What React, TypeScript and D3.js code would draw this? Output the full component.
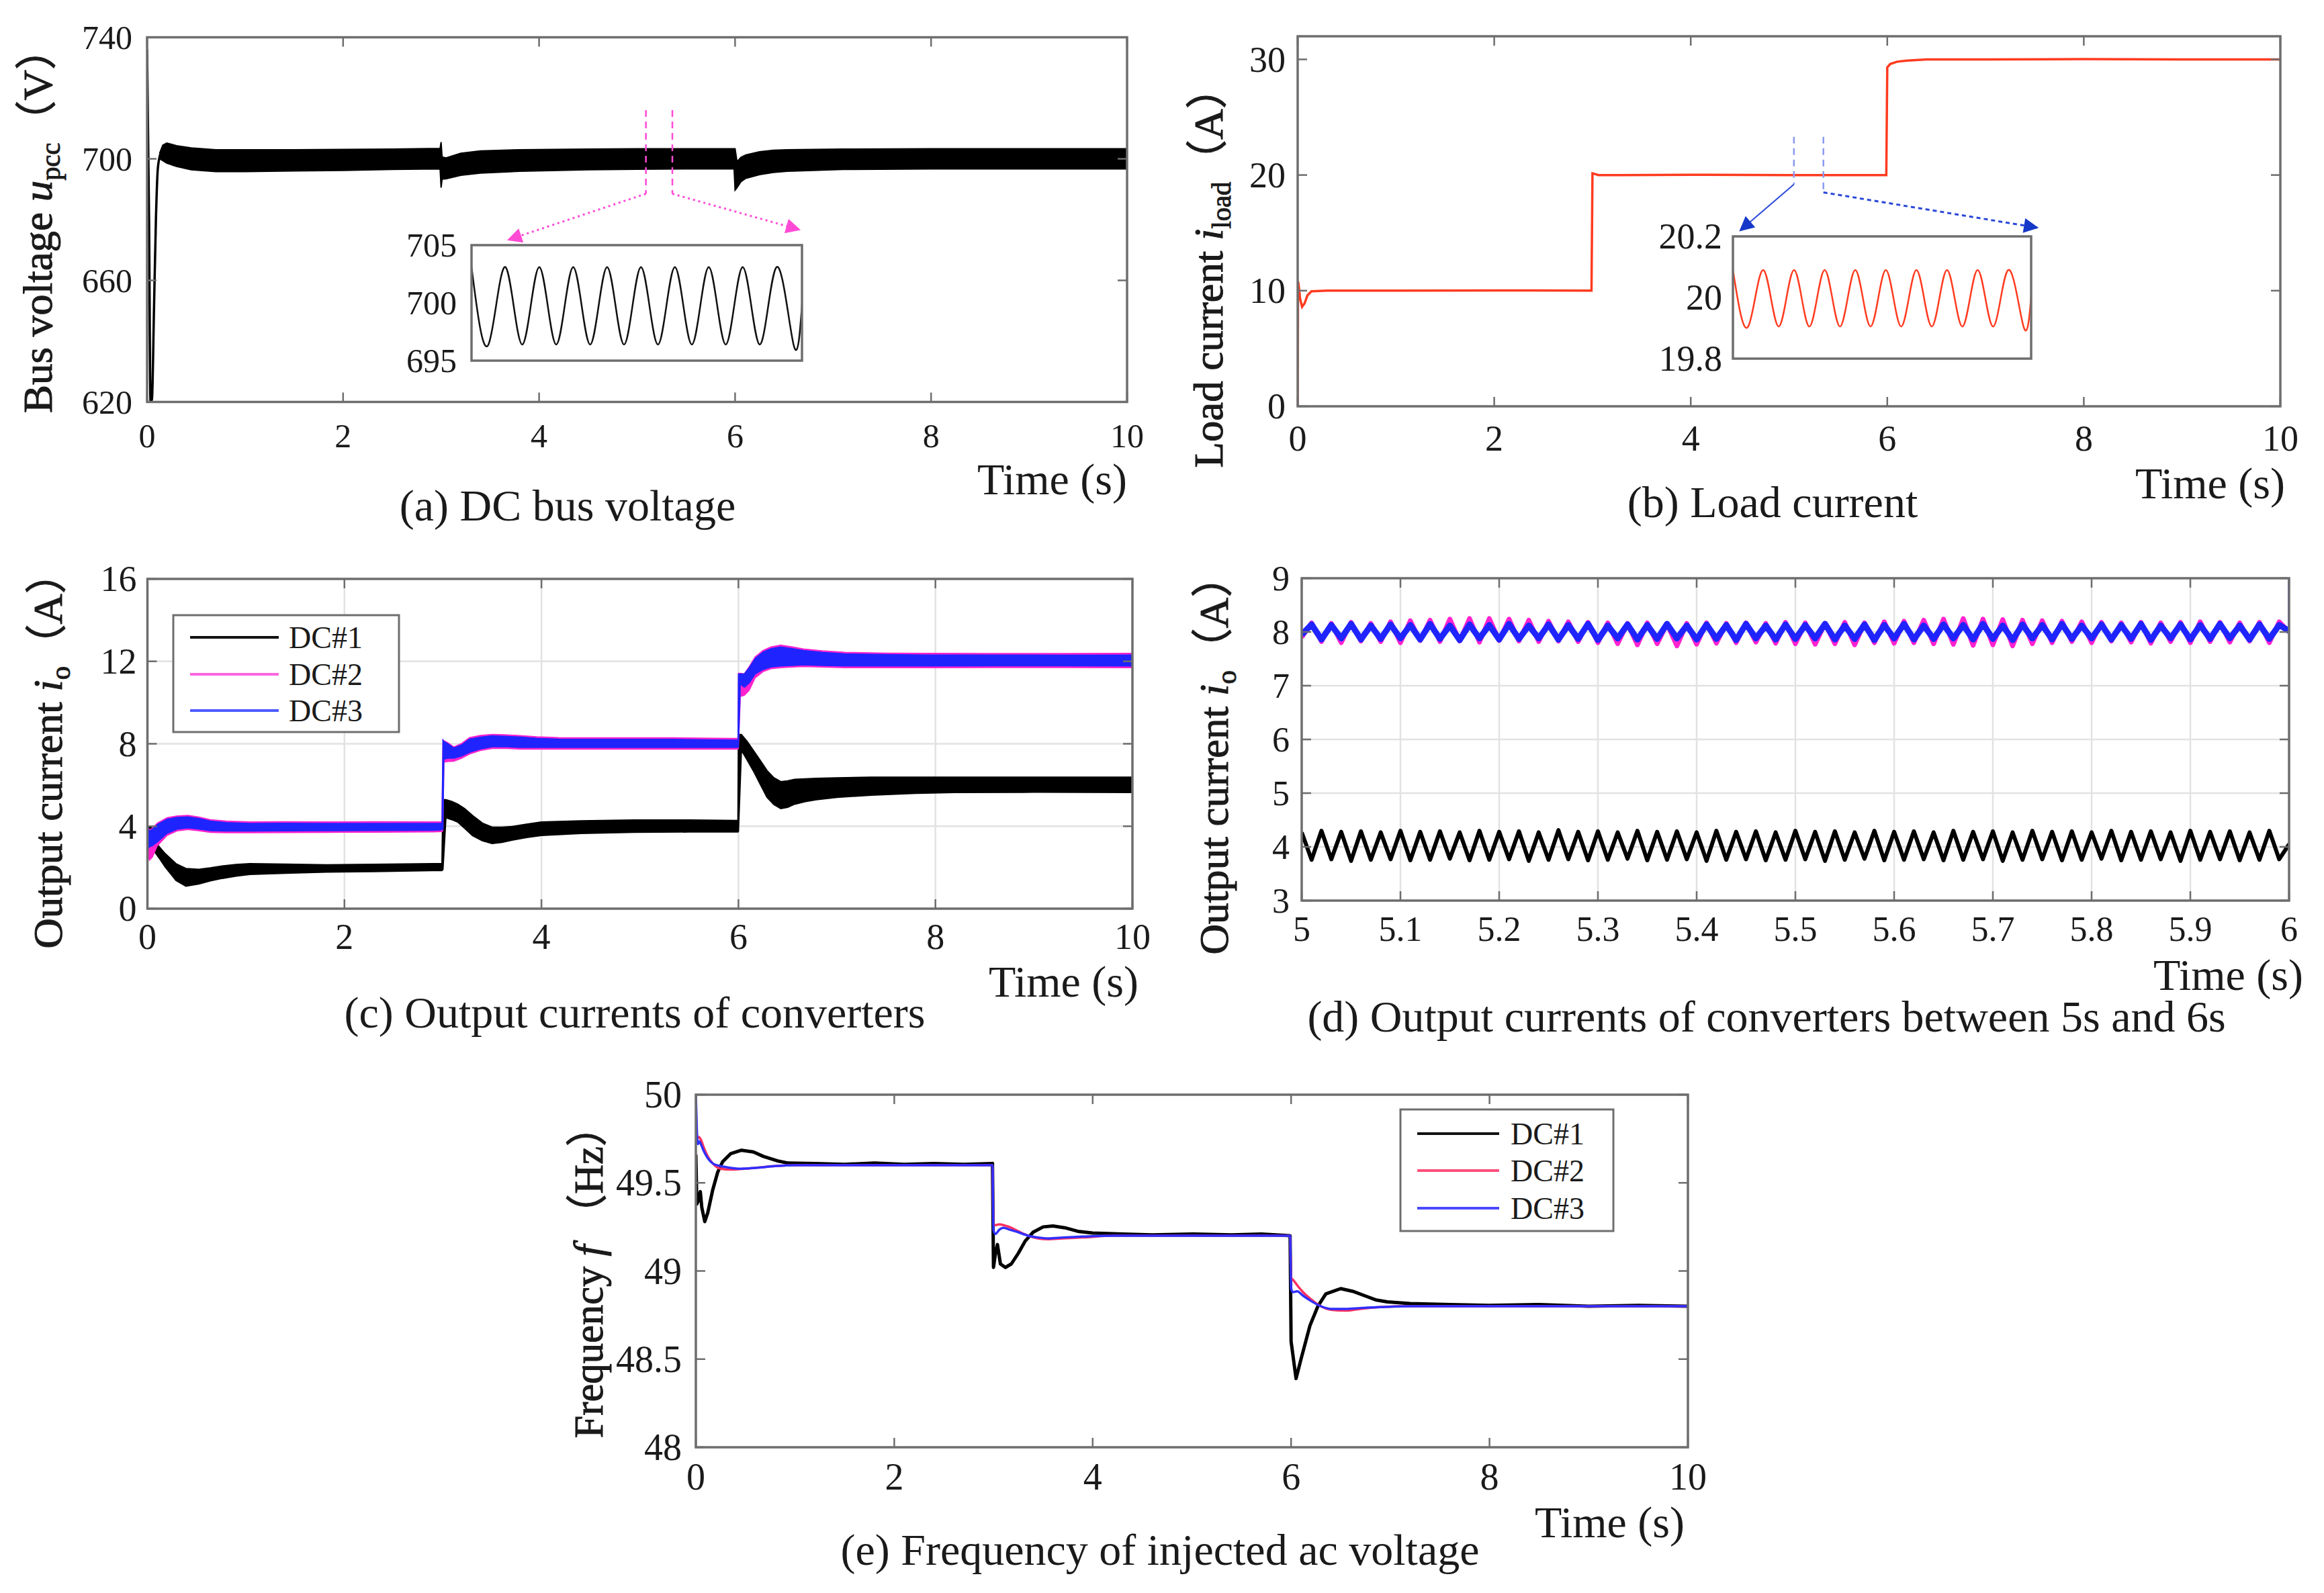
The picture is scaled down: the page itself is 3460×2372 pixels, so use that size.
import React from "react";
import * as d3 from "d3";

const FONT = "'Liberation Serif', 'Times New Roman', 'Noto Sans CJK SC', serif";
const INK = "#1a1a1a";
const AXIS = "#6e6e6e";
const GRID = "#e2e2e2";

// ---------- (a) DC bus voltage ----------
const aXTicks = [0, 2, 4, 6, 8, 10];
const aYTicks = [620, 660, 700, 740];
const aStartTime = [0, 0.02, 0.035, 0.05, 0.07, 0.09, 0.11, 0.14];
const aStartVolt = [736, 680, 620, 621, 650, 680, 697, 702];
const aBandTime = [0.13, 0.16, 0.2, 0.3, 0.45, 0.7, 1.0, 1.5, 2.0, 2.5, 2.99, 3.0, 3.01, 3.05, 3.2, 3.4, 3.8, 4.5, 5.0, 5.5, 5.99, 6.0, 6.02, 6.06, 6.11, 6.25, 6.39, 6.53, 7.1, 8.0, 9.0, 10.0];
const aBandUpper = [702, 704.5, 705.2, 704.3, 703.6, 703.0, 703.0, 703.0, 703.1, 703.2, 703.4, 705.5, 700.6, 700.3, 701.8, 702.6, 703.0, 703.2, 703.3, 703.3, 703.3, 703.3, 699.0, 700.5, 701.3, 702.3, 702.8, 703.0, 703.2, 703.3, 703.3, 703.3];
const aBandLower = [700, 699.4, 698.6, 697.5, 696.4, 695.8, 695.8, 696.0, 696.2, 696.5, 696.7, 690.5, 693.3, 693.4, 694.6, 695.3, 695.9, 696.4, 696.6, 696.7, 696.7, 689.7, 690.5, 692.5, 693.6, 694.8, 695.5, 695.9, 696.5, 696.7, 696.7, 696.7];
const aMarkTime = [5.09, 5.36];
const aInsetTicks = [695, 700, 705];
const aInsetTime = [5.1, 5.10513, 5.11026, 5.11538, 5.12051, 5.12564, 5.13077, 5.1359, 5.14103, 5.14615, 5.15128, 5.15641, 5.16154, 5.16667, 5.17179, 5.17692, 5.18205, 5.18718, 5.19231, 5.19744, 5.2];
const aInsetVolt = [703.1, 696.4, 703.1, 696.4, 703.1, 696.4, 703.1, 696.4, 703.1, 696.4, 703.1, 696.4, 703.1, 696.4, 703.1, 696.4, 703.1, 696.4, 703.1, 696.4, 699.8];

// ---------- (b) Load current ----------
const bXTicks = [0, 2, 4, 6, 8, 10];
const bYTicks = [0, 10, 20, 30];
const bTime = [0, 0.004, 0.01, 0.025, 0.045, 0.07, 0.1, 0.14, 0.3, 1, 2, 2.99, 3.0, 3.02, 3.06, 3.3, 4, 5, 5.99, 6.0, 6.03, 6.1, 6.2, 6.4, 7, 8, 9, 10];
const bCurrent = [0, 10.8, 10.5, 9.3, 8.6, 8.9, 9.6, 9.95, 10, 10, 10.02, 10, 20.15, 20.1, 20, 20, 20.02, 20, 20, 29.3, 29.6, 29.8, 29.9, 30, 30, 30.02, 30, 30];
const bMarkTime = [5.05, 5.35];
const bInsetTicks = [19.8, 20, 20.2];
const bInsetLabels = ["19.8", "20", "20.2"];
const bInsetTime = [5.1, 5.10513, 5.11026, 5.11538, 5.12051, 5.12564, 5.13077, 5.1359, 5.14103, 5.14615, 5.15128, 5.15641, 5.16154, 5.16667, 5.17179, 5.17692, 5.18205, 5.18718, 5.19231, 5.19744, 5.2];
const bInsetCurrent = [20.09, 19.905, 20.09, 19.905, 20.09, 19.905, 20.09, 19.905, 20.09, 19.905, 20.09, 19.905, 20.09, 19.905, 20.09, 19.905, 20.09, 19.905, 20.09, 19.905, 20.0];

// ---------- (c) Output currents of converters ----------
const cXTicks = [0, 2, 4, 6, 8, 10];
const cYTicks = [0, 4, 8, 12, 16];
const cTime = [0, 0.004, 0.02, 0.05, 0.1, 0.2, 0.3, 0.41, 0.52, 0.64, 0.8, 1.04, 1.4, 1.82, 2.3, 2.9, 2.99, 3.0, 3.01, 3.05, 3.11, 3.19, 3.27, 3.38, 3.5, 3.62, 3.78, 3.95, 4.17, 4.6, 5.35, 5.97, 5.995, 6.0, 6.02, 6.06, 6.11, 6.17, 6.25, 6.33, 6.43, 6.55, 6.66, 6.85, 7.08, 7.5, 7.92, 8.6, 9.3, 10];
const cBlueUpper = [0.05, 3.9, 3.76, 3.85, 4.09, 4.34, 4.43, 4.46, 4.38, 4.25, 4.18, 4.14, 4.15, 4.14, 4.14, 4.14, 4.15, 8.18, 8.12, 8.0, 7.8, 7.95, 8.23, 8.33, 8.39, 8.37, 8.33, 8.27, 8.23, 8.22, 8.22, 8.18, 8.18, 11.39, 11.39, 11.39, 11.7, 12.15, 12.45, 12.62, 12.7, 12.62, 12.53, 12.44, 12.37, 12.33, 12.31, 12.31, 12.3, 12.31];
const cBlueLower = [0, 2.9, 3.0, 3.05, 3.23, 3.65, 3.85, 3.92, 3.86, 3.78, 3.76, 3.76, 3.77, 3.78, 3.79, 3.8, 3.82, 3.85, 7.25, 7.3, 7.3, 7.4, 7.58, 7.75, 7.85, 7.86, 7.82, 7.82, 7.82, 7.82, 7.82, 7.82, 7.82, 7.85, 10.9, 10.74, 10.95, 11.39, 11.6, 11.72, 11.77, 11.8, 11.83, 11.8, 11.77, 11.77, 11.77, 11.78, 11.78, 11.77];
const cPinkUpper = [0.05, 3.95, 3.82, 3.9, 4.15, 4.42, 4.5, 4.53, 4.45, 4.32, 4.25, 4.21, 4.22, 4.21, 4.22, 4.21, 4.22, 8.2, 8.15, 8.05, 7.85, 8.02, 8.3, 8.41, 8.46, 8.44, 8.4, 8.34, 8.3, 8.29, 8.29, 8.26, 8.26, 11.42, 11.42, 11.4, 11.75, 12.22, 12.53, 12.7, 12.79, 12.7, 12.6, 12.51, 12.44, 12.4, 12.39, 12.38, 12.38, 12.39];
const cPinkLower = [0, 2.6, 2.35, 2.5, 3.05, 3.55, 3.77, 3.84, 3.78, 3.7, 3.68, 3.68, 3.69, 3.7, 3.71, 3.72, 3.74, 3.8, 7.1, 7.14, 7.15, 7.3, 7.5, 7.67, 7.77, 7.78, 7.74, 7.74, 7.74, 7.74, 7.74, 7.74, 7.74, 7.8, 10.3, 10.35, 10.6, 11.2, 11.5, 11.64, 11.69, 11.72, 11.75, 11.72, 11.69, 11.69, 11.69, 11.7, 11.7, 11.69];
const cBlackTime = [0, 0.005, 0.03, 0.05, 0.07, 0.12, 0.18, 0.29, 0.39, 0.52, 0.64, 0.76, 0.9, 1.04, 1.4, 1.82, 2.3, 2.9, 2.99, 3.0, 3.03, 3.09, 3.15, 3.22, 3.3, 3.4, 3.5, 3.6, 3.7, 3.85, 4.0, 4.4, 4.94, 5.5, 5.97, 5.995, 6.0, 6.03, 6.09, 6.15, 6.22, 6.29, 6.36, 6.43, 6.5, 6.57, 6.68, 6.79, 7.0, 7.35, 7.8, 8.2, 9.0, 10];
const cBlackUpper = [3.3, 3.97, 3.97, 3.9, 3.32, 3.0, 2.67, 2.18, 1.95, 1.91, 1.98, 2.07, 2.14, 2.18, 2.16, 2.13, 2.15, 2.18, 2.18, 5.29, 5.29, 5.2, 5.07, 4.85, 4.52, 4.15, 3.95, 3.95, 3.98, 4.1, 4.2, 4.26, 4.3, 4.3, 4.28, 4.28, 8.45, 8.45, 8.1, 7.69, 7.2, 6.7, 6.35, 6.16, 6.2, 6.27, 6.3, 6.32, 6.35, 6.38, 6.38, 6.38, 6.38, 6.38];
const cBlackLower = [3.3, 3.0, 3.0, 2.85, 2.78, 2.45, 2.02, 1.37, 1.09, 1.2, 1.35, 1.47, 1.58, 1.66, 1.72, 1.78, 1.8, 1.85, 1.85, 1.9, 4.41, 4.32, 4.2, 3.9, 3.55, 3.3, 3.16, 3.22, 3.32, 3.45, 3.55, 3.65, 3.71, 3.72, 3.72, 3.72, 3.76, 7.69, 7.2, 6.7, 6.05, 5.4, 5.05, 4.86, 4.92, 5.07, 5.2, 5.29, 5.4, 5.51, 5.6, 5.64, 5.65, 5.64];

// ---------- (d) Output currents between 5 s and 6 s ----------
const dXTicks = [5, 5.1, 5.2, 5.3, 5.4, 5.5, 5.6, 5.7, 5.8, 5.9, 6];
const dYTicks = [3, 4, 5, 6, 7, 8, 9];
const dStart = 5;
const dStep = 0.01;
const dBlack = [
  4.27, 3.76, 4.3, 3.77, 4.28, 3.74, 4.29, 3.76, 4.27, 3.77,
  4.3, 3.75, 4.28, 3.76, 4.29, 3.78, 4.27, 3.75, 4.3, 3.76,
  4.28, 3.77, 4.29, 3.74, 4.27, 3.76, 4.31, 3.77, 4.28, 3.75,
  4.29, 3.76, 4.27, 3.78, 4.3, 3.75, 4.28, 3.76, 4.29, 3.77,
  4.27, 3.74, 4.3, 3.76, 4.28, 3.77, 4.29, 3.75, 4.27, 3.76,
  4.3, 3.77, 4.28, 3.74, 4.29, 3.76, 4.27, 3.78, 4.3, 3.75,
  4.28, 3.76, 4.29, 3.77, 4.27, 3.75, 4.3, 3.76, 4.28, 3.77,
  4.29, 3.74, 4.27, 3.76, 4.3, 3.77, 4.28, 3.75, 4.29, 3.76,
  4.27, 3.78, 4.3, 3.75, 4.28, 3.76, 4.29, 3.77, 4.27, 3.74,
  4.3, 3.76, 4.28, 3.77, 4.29, 3.75, 4.27, 3.76, 4.3, 3.77,
  4.05,
];
const dPink = [
  7.9, 8.17, 7.82, 8.16, 7.8, 8.18, 7.83, 8.16, 7.82, 8.19,
  7.8, 8.21, 7.84, 8.22, 7.82, 8.24, 7.83, 8.25, 7.81, 8.25,
  7.84, 8.24, 7.83, 8.22, 7.82, 8.2, 7.83, 8.19, 7.82, 8.18,
  7.8, 8.17, 7.78, 8.16, 7.76, 8.17, 7.78, 8.15, 7.74, 8.16,
  7.77, 8.17, 7.79, 8.16, 7.8, 8.17, 7.81, 8.16, 7.79, 8.18,
  7.78, 8.17, 7.77, 8.16, 7.78, 8.18, 7.76, 8.17, 7.8, 8.19,
  7.79, 8.2, 7.8, 8.22, 7.78, 8.24, 7.77, 8.25, 7.75, 8.24,
  7.76, 8.23, 7.74, 8.22, 7.78, 8.21, 7.8, 8.2, 7.82, 8.19,
  7.8, 8.18, 7.83, 8.17, 7.81, 8.18, 7.79, 8.17, 7.82, 8.18,
  7.8, 8.19, 7.82, 8.18, 7.81, 8.17, 7.83, 8.18, 7.8, 8.19,
  8.0,
];
const dBlue = [
  7.95, 8.14, 7.86, 8.13, 7.88, 8.15, 7.86, 8.12, 7.87, 8.14,
  7.88, 8.13, 7.86, 8.15, 7.87, 8.12, 7.85, 8.14, 7.88, 8.13,
  7.86, 8.15, 7.87, 8.12, 7.88, 8.14, 7.86, 8.13, 7.87, 8.15,
  7.85, 8.12, 7.88, 8.14, 7.86, 8.13, 7.87, 8.15, 7.88, 8.12,
  7.86, 8.14, 7.87, 8.13, 7.85, 8.15, 7.88, 8.12, 7.86, 8.14,
  7.87, 8.13, 7.88, 8.15, 7.86, 8.12, 7.87, 8.14, 7.85, 8.13,
  7.88, 8.15, 7.86, 8.12, 7.87, 8.14, 7.88, 8.13, 7.86, 8.15,
  7.87, 8.12, 7.85, 8.14, 7.88, 8.13, 7.86, 8.15, 7.87, 8.12,
  7.88, 8.14, 7.86, 8.13, 7.87, 8.15, 7.85, 8.12, 7.88, 8.14,
  7.86, 8.13, 7.87, 8.15, 7.88, 8.12, 7.86, 8.14, 7.87, 8.13,
  8.02,
];
// jump of DC#3 right at t = 6 s
const dBlueJumpTime = [6.0, 6.0];
const dBlueJumpValue = [8.02, 9.6];

// ---------- (e) Frequency of injected ac voltage ----------
const eXTicks = [0, 2, 4, 6, 8, 10];
const eYTicks = [48, 48.5, 49, 49.5, 50];
const eBlackTime = [0, 0.01, 0.025, 0.045, 0.06, 0.09, 0.12, 0.17, 0.22, 0.27, 0.35, 0.46, 0.58, 0.68, 0.82, 0.93, 1.2, 1.5, 1.8, 2.1, 2.4, 2.7, 2.99, 3.0, 3.02, 3.04, 3.07, 3.12, 3.18, 3.25, 3.32, 3.4, 3.5, 3.6, 3.72, 3.85, 4.0, 4.3, 4.6, 5.0, 5.4, 5.7, 5.99, 6.0, 6.05, 6.1, 6.19, 6.27, 6.35, 6.5, 6.62, 6.74, 6.86, 6.97, 7.2, 7.6, 8.0, 8.5, 9.0, 9.5, 10];
const eBlackFreq = [49.66, 49.38, 49.4, 49.45, 49.36, 49.28, 49.33, 49.46, 49.56, 49.62, 49.665, 49.685, 49.675, 49.65, 49.625, 49.612, 49.61, 49.605, 49.612, 49.605, 49.61, 49.605, 49.61, 49.02, 49.1, 49.15, 49.04, 49.02, 49.04, 49.1, 49.17, 49.22, 49.25, 49.255, 49.245, 49.225, 49.215, 49.21, 49.205, 49.21, 49.205, 49.21, 49.2, 48.6, 48.39, 48.5, 48.69, 48.8, 48.87, 48.9, 48.885, 48.86, 48.835, 48.825, 48.815, 48.81, 48.805, 48.81, 48.8, 48.805, 48.8];
const eRedTime = [0, 0.01, 0.03, 0.05, 0.08, 0.12, 0.17, 0.25, 0.35, 0.45, 0.6, 0.8, 1.0, 1.5, 2, 2.5, 2.99, 3.0, 3.02, 3.06, 3.1, 3.16, 3.25, 3.35, 3.45, 3.55, 3.7, 3.9, 4.2, 5, 5.99, 6.0, 6.02, 6.06, 6.12, 6.2, 6.3, 6.4, 6.55, 6.7, 6.9, 7.2, 8, 9, 10];
const eRedFreq = [49.8, 49.75, 49.76, 49.745, 49.7, 49.65, 49.61, 49.58, 49.575, 49.578, 49.585, 49.595, 49.6, 49.6, 49.6, 49.6, 49.6, 49.27, 49.26, 49.265, 49.26, 49.25, 49.225, 49.2, 49.185, 49.18, 49.185, 49.19, 49.2, 49.2, 49.2, 48.96, 48.95, 48.92, 48.88, 48.84, 48.8, 48.78, 48.775, 48.785, 48.795, 48.8, 48.8, 48.8, 48.8];
const eBlueTime = [0, 0.01, 0.02, 0.035, 0.05, 0.08, 0.12, 0.17, 0.25, 0.35, 0.45, 0.6, 0.8, 1.0, 1.5, 2, 2.5, 2.99, 3.0, 3.02, 3.06, 3.1, 3.16, 3.25, 3.35, 3.45, 3.55, 3.7, 3.9, 4.2, 5, 5.99, 6.0, 6.02, 6.06, 6.12, 6.2, 6.3, 6.4, 6.55, 6.7, 6.9, 7.2, 8, 9, 10];
const eBlueFreq = [50, 49.8, 49.72, 49.735, 49.72, 49.68, 49.64, 49.61, 49.595, 49.585, 49.58, 49.585, 49.595, 49.6, 49.6, 49.6, 49.6, 49.6, 49.23, 49.21, 49.235, 49.245, 49.235, 49.22, 49.2, 49.19, 49.185, 49.19, 49.195, 49.2, 49.2, 49.2, 48.9, 48.88, 48.885, 48.86, 48.83, 48.8, 48.785, 48.785, 48.79, 48.795, 48.8, 48.8, 48.8, 48.8];

const legendNames = ["DC#1", "DC#2", "DC#3"];

type Box = { x0: number; x1: number; y0: number; y1: number };
type Sc = d3.ScaleLinear<number, number>;

const PANEL_A: Box = { x0: 219, x1: 1678, y0: 55.5, y1: 598.5 };
const INSET_A: Box = { x0: 702, x1: 1194, y0: 365, y1: 537 };
const PANEL_B: Box = { x0: 1932, x1: 3395, y0: 54, y1: 605 };
const INSET_B: Box = { x0: 2580, x1: 3024, y0: 352, y1: 534 };
const PANEL_C: Box = { x0: 219.5, x1: 1686, y0: 862, y1: 1353 };
const PANEL_D: Box = { x0: 1938, x1: 3408, y0: 861, y1: 1341 };
const PANEL_E: Box = { x0: 1036, x1: 2513, y0: 1630, y1: 2155 };

const zip = (ts: number[], vs: number[]) => ts.map((t, i) => [t, vs[i]] as [number, number]);
const zip3 = (ts: number[], up: number[], lo: number[]) =>
  ts.map((t, i) => [t, up[i], lo[i]] as [number, number, number]);

function linePath(x: Sc, y: Sc, pts: [number, number][], curve: d3.CurveFactory = d3.curveLinear) {
  return d3.line<[number, number]>().x((d) => x(d[0])).y((d) => y(d[1])).curve(curve)(pts) || "";
}
function bandPath(x: Sc, y: Sc, pts: [number, number, number][]) {
  return d3.area<[number, number, number]>().x((d) => x(d[0])).y1((d) => y(d[1])).y0((d) => y(d[2]))(pts) || "";
}

function Grid({ box, x, y, xTicks, yTicks }: { box: Box; x: Sc; y: Sc; xTicks: number[]; yTicks: number[] }) {
  return (
    <g stroke={GRID} strokeWidth={2.5}>
      {xTicks.map((t) => (
        <line key={"gx" + t} x1={x(t)} x2={x(t)} y1={box.y0} y2={box.y1} />
      ))}
      {yTicks.map((t) => (
        <line key={"gy" + t} x1={box.x0} x2={box.x1} y1={y(t)} y2={y(t)} />
      ))}
    </g>
  );
}

function Frame({
  box, x, y, xTicks, yTicks, fs, xDy, yGap, xFmt = String, yFmt = String,
}: {
  box: Box; x: Sc; y: Sc; xTicks: number[]; yTicks: number[]; fs: number; xDy: number; yGap: number;
  xFmt?: (v: number) => string; yFmt?: (v: number) => string;
}) {
  const tl = 14;
  return (
    <g>
      <g stroke={AXIS} strokeWidth={2.5}>
        {xTicks.map((t) => (
          <g key={"tx" + t}>
            <line x1={x(t)} x2={x(t)} y1={box.y1} y2={box.y1 - tl} />
            <line x1={x(t)} x2={x(t)} y1={box.y0} y2={box.y0 + tl} />
          </g>
        ))}
        {yTicks.map((t) => (
          <g key={"ty" + t}>
            <line x1={box.x0} x2={box.x0 + tl} y1={y(t)} y2={y(t)} />
            <line x1={box.x1} x2={box.x1 - tl} y1={y(t)} y2={y(t)} />
          </g>
        ))}
      </g>
      <rect x={box.x0} y={box.y0} width={box.x1 - box.x0} height={box.y1 - box.y0} fill="none" stroke={AXIS} strokeWidth={3.5} />
      <g fontFamily={FONT} fontSize={fs} fill={INK}>
        {xTicks.map((t) => (
          <text key={"lx" + t} x={x(t)} y={box.y1 + xDy} textAnchor="middle">
            {xFmt(t)}
          </text>
        ))}
        {yTicks.map((t) => (
          <text key={"ly" + t} x={box.x0 - yGap} y={y(t)} dy="0.34em" textAnchor="end">
            {yFmt(t)}
          </text>
        ))}
      </g>
    </g>
  );
}

function Clip({ id, box }: { id: string; box: Box }) {
  return (
    <clipPath id={id}>
      <rect x={box.x0} y={box.y0} width={box.x1 - box.x0} height={box.y1 - box.y0} />
    </clipPath>
  );
}

function Legend({ box, colors, rows, lineX, textX, fs }: { box: Box; colors: string[]; rows: number[]; lineX: [number, number]; textX: number; fs: number }) {
  return (
    <g>
      <rect x={box.x0} y={box.y0} width={box.x1 - box.x0} height={box.y1 - box.y0} fill="#fff" stroke={AXIS} strokeWidth={3} />
      {legendNames.map((n, i) => (
        <g key={n}>
          <line x1={lineX[0]} x2={lineX[1]} y1={rows[i]} y2={rows[i]} stroke={colors[i]} strokeWidth={4} />
          <text x={textX} y={rows[i]} dy="0.35em" fontFamily={FONT} fontSize={fs} fill={INK}>
            {n}
          </text>
        </g>
      ))}
    </g>
  );
}

function YLabel({ x, y, len, children }: { x: number; y: number; len: number; children: React.ReactNode }) {
  return (
    <text
      transform={`translate(${x},${y}) rotate(-90)`}
      textAnchor="middle"
      fontFamily={FONT}
      fontSize={62}
      fill={INK}
      stroke={INK}
      strokeWidth={1}
      textLength={len}
      lengthAdjust="spacingAndGlyphs"
    >
      {children}
    </text>
  );
}

function Caption({ x, y, text }: { x: number; y: number; text: string }) {
  return (
    <text x={x} y={y} textAnchor="middle" fontFamily={FONT} fontSize={66} fill={INK}>
      {text}
    </text>
  );
}

function TimeLabel({ x, y }: { x: number; y: number }) {
  return (
    <text x={x} y={y} textAnchor="end" fontFamily={FONT} fontSize={66} fill={INK}>
      Time (s)
    </text>
  );
}

export default function App() {
  // scales
  const ax = d3.scaleLinear([0, 10], [PANEL_A.x0, PANEL_A.x1]);
  const ay = d3.scaleLinear([620, 740], [PANEL_A.y1, PANEL_A.y0]);
  const aix = d3.scaleLinear([5.1, 5.2], [INSET_A.x0, INSET_A.x1]);
  const aiy = d3.scaleLinear([695, 705], [INSET_A.y1, INSET_A.y0]);

  const bx = d3.scaleLinear([0, 10], [PANEL_B.x0, PANEL_B.x1]);
  const by = d3.scaleLinear([0, 32], [PANEL_B.y1, PANEL_B.y0]);
  const bix = d3.scaleLinear([5.1, 5.2], [INSET_B.x0, INSET_B.x1]);
  const biy = d3.scaleLinear([19.8, 20.2], [INSET_B.y1, INSET_B.y0]);

  const cx = d3.scaleLinear([0, 10], [PANEL_C.x0, PANEL_C.x1]);
  const cy = d3.scaleLinear([0, 16], [PANEL_C.y1, PANEL_C.y0]);

  const dx = d3.scaleLinear([5, 6], [PANEL_D.x0, PANEL_D.x1]);
  const dy = d3.scaleLinear([3, 9], [PANEL_D.y1, PANEL_D.y0]);

  const ex = d3.scaleLinear([0, 10], [PANEL_E.x0, PANEL_E.x1]);
  const ey = d3.scaleLinear([48, 50], [PANEL_E.y1, PANEL_E.y0]);

  const dSeries = (vals: number[]) => vals.map((v, i) => [dStart + i * dStep, v] as [number, number]);

  const pink = "#ff22cf";
  const blue = "#1f24ff";
  const aPink = "#ff4ad6";
  const bBlue = "#2a48d8";

  // annotation geometry (zoom markers and arrows)
  const am1 = ax(aMarkTime[0]);
  const am2 = ax(aMarkTime[1]);
  const amTop = ay(716);
  const amBot = ay(688.5);
  const bm1 = bx(bMarkTime[0]);
  const bm2 = bx(bMarkTime[1]);
  const bmTop = by(23.3);
  const bmBot1 = by(19.2);
  const bmBot2 = by(18.5);

  return (
    <svg width={3460} height={2372} style={{ position: "absolute", left: 0, top: 0, background: "#fff" }}>
      <defs>
        <Clip id="clipA" box={PANEL_A} />
        <Clip id="clipAi" box={INSET_A} />
        <Clip id="clipB" box={PANEL_B} />
        <Clip id="clipBi" box={INSET_B} />
        <Clip id="clipC" box={PANEL_C} />
        <Clip id="clipD" box={PANEL_D} />
        <Clip id="clipE" box={PANEL_E} />
        <marker id="arrPink" viewBox="0 0 10 10" refX="9" refY="5" markerWidth="26" markerHeight="22" markerUnits="userSpaceOnUse" orient="auto">
          <path d="M0,0 L10,5 L0,10 z" fill={aPink} />
        </marker>
        <marker id="arrBlue" viewBox="0 0 10 10" refX="9" refY="5" markerWidth="26" markerHeight="22" markerUnits="userSpaceOnUse" orient="auto">
          <path d="M0,0 L10,5 L0,10 z" fill="#1638c8" />
        </marker>
      </defs>
      <rect width={3460} height={2372} fill="#fff" />

      {/* ===== (a) ===== */}
      <g clipPath="url(#clipA)">
        <path d={linePath(ax, ay, zip(aStartTime, aStartVolt), d3.curveMonotoneX)} fill="none" stroke="#000" strokeWidth={3.5} />
        <path d={bandPath(ax, ay, zip3(aBandTime, aBandUpper, aBandLower))} fill="#000" stroke="#000" strokeWidth={2} />
      </g>
      <Frame box={PANEL_A} x={ax} y={ay} xTicks={aXTicks} yTicks={aYTicks} fs={50} xDy={67} yGap={22} />
      <g stroke={aPink} strokeWidth={2.5} fill="none">
        <line x1={am1} x2={am1} y1={amTop} y2={amBot} strokeDasharray="10 7" />
        <line x1={am2} x2={am2} y1={amTop} y2={amBot} strokeDasharray="10 7" />
        <line x1={am1} y1={amBot} x2={INSET_A.x0 + 55} y2={INSET_A.y0 - 8} strokeWidth={3} strokeDasharray="3 5" markerEnd="url(#arrPink)" />
        <line x1={am2} y1={amBot} x2={INSET_A.x1 - 4} y2={INSET_A.y0 - 23} strokeWidth={3} strokeDasharray="3 5" markerEnd="url(#arrPink)" />
      </g>
      <rect x={INSET_A.x0} y={INSET_A.y0} width={INSET_A.x1 - INSET_A.x0} height={INSET_A.y1 - INSET_A.y0} fill="#fff" />
      <g clipPath="url(#clipAi)">
        <path d={linePath(aix, aiy, zip(aInsetTime, aInsetVolt), d3.curveNatural)} fill="none" stroke="#111" strokeWidth={2.5} />
      </g>
      <rect x={INSET_A.x0} y={INSET_A.y0} width={INSET_A.x1 - INSET_A.x0} height={INSET_A.y1 - INSET_A.y0} fill="none" stroke={AXIS} strokeWidth={3.5} />
      <g fontFamily={FONT} fontSize={50} fill={INK}>
        {aInsetTicks.map((t) => (
          <text key={t} x={INSET_A.x0 - 22} y={aiy(t)} dy="0.34em" textAnchor="end">
            {t}
          </text>
        ))}
      </g>
      <YLabel x={77} y={328} len={574}>
        {"Bus voltage "}
        <tspan fontStyle="italic">u</tspan>
        <tspan fontSize={40} dy={12}>pcc</tspan>
        <tspan dy={-12}>（V）</tspan>
      </YLabel>
      <TimeLabel x={1678} y={736} />
      <Caption x={845} y={775} text="(a) DC bus voltage" />

      {/* ===== (b) ===== */}
      <g clipPath="url(#clipB)">
        <path d={linePath(bx, by, zip(bTime, bCurrent))} fill="none" stroke="#ff3b1f" strokeWidth={3.5} />
      </g>
      <Frame box={PANEL_B} x={bx} y={by} xTicks={bXTicks} yTicks={bYTicks} fs={54} xDy={66} yGap={18} />
      <g fill="none">
        <line x1={bm1} x2={bm1} y1={bmTop} y2={bmBot1} stroke="#8a9af0" strokeWidth={2.5} strokeDasharray="10 7" />
        <line x1={bm2} x2={bm2} y1={bmTop} y2={bmBot2} stroke="#8a9af0" strokeWidth={2.5} strokeDasharray="10 7" />
        <line x1={bm1} y1={bmBot1} x2={INSET_B.x0 + 11} y2={INSET_B.y0 - 9} stroke={bBlue} strokeWidth={2} markerEnd="url(#arrBlue)" />
        <line x1={bm2} y1={bmBot2} x2={INSET_B.x1 + 9} y2={INSET_B.y0 - 13} stroke={bBlue} strokeWidth={3} strokeDasharray="6 5" markerEnd="url(#arrBlue)" />
      </g>
      <rect x={INSET_B.x0} y={INSET_B.y0} width={INSET_B.x1 - INSET_B.x0} height={INSET_B.y1 - INSET_B.y0} fill="#fff" />
      <g clipPath="url(#clipBi)">
        <path d={linePath(bix, biy, zip(bInsetTime, bInsetCurrent), d3.curveNatural)} fill="none" stroke="#ff3b1f" strokeWidth={2.5} />
      </g>
      <rect x={INSET_B.x0} y={INSET_B.y0} width={INSET_B.x1 - INSET_B.x0} height={INSET_B.y1 - INSET_B.y0} fill="none" stroke={AXIS} strokeWidth={3.5} />
      <g fontFamily={FONT} fontSize={54} fill={INK}>
        {bInsetTicks.map((t, i) => (
          <text key={t} x={INSET_B.x0 - 16} y={biy(t)} dy="0.34em" textAnchor="end">
            {bInsetLabels[i]}
          </text>
        ))}
      </g>
      <YLabel x={1820} y={398} len={597}>
        {"Load current "}
        <tspan fontStyle="italic">i</tspan>
        <tspan fontSize={40} dy={12}>load</tspan>
        <tspan dy={-12}>（A）</tspan>
      </YLabel>
      <TimeLabel x={3402} y={742} />
      <Caption x={2639} y={770} text="(b) Load current" />

      {/* ===== (c) ===== */}
      <Grid box={PANEL_C} x={cx} y={cy} xTicks={cXTicks} yTicks={cYTicks} />
      <g clipPath="url(#clipC)">
        <path d={bandPath(cx, cy, zip3(cBlackTime, cBlackUpper, cBlackLower))} fill="#000" stroke="#000" strokeWidth={2} />
        <path d={bandPath(cx, cy, zip3(cTime, cPinkUpper, cPinkLower))} fill={pink} stroke={pink} strokeWidth={1.5} />
        <path d={bandPath(cx, cy, zip3(cTime, cBlueUpper, cBlueLower))} fill={blue} stroke={blue} strokeWidth={1.5} />
      </g>
      <Frame box={PANEL_C} x={cx} y={cy} xTicks={cXTicks} yTicks={cYTicks} fs={54} xDy={60} yGap={16} />
      <Legend
        box={{ x0: 258, x1: 594, y0: 916, y1: 1090 }}
        colors={["#111", "#ff66e0", "#4d5cff"]}
        rows={[949, 1004, 1058]}
        lineX={[283, 415]}
        textX={430}
        fs={46}
      />
      <YLabel x={92} y={1117} len={591}>
        {"Output current "}
        <tspan fontStyle="italic">i</tspan>
        <tspan fontSize={40} dy={12}>o</tspan>
        <tspan dy={-12}>（A）</tspan>
      </YLabel>
      <TimeLabel x={1695} y={1484} />
      <Caption x={945} y={1530} text="(c) Output currents of converters" />

      {/* ===== (d) ===== */}
      <Grid box={PANEL_D} x={dx} y={dy} xTicks={dXTicks} yTicks={dYTicks} />
      <g clipPath="url(#clipD)">
        <path d={linePath(dx, dy, dSeries(dBlack))} fill="none" stroke="#000" strokeWidth={6} strokeLinejoin="round" />
        <path d={linePath(dx, dy, dSeries(dPink))} fill="none" stroke={pink} strokeWidth={7} strokeLinejoin="round" />
        <path d={linePath(dx, dy, dSeries(dBlue))} fill="none" stroke={blue} strokeWidth={9} strokeLinejoin="round" />
        <path d={linePath(dx, dy, zip(dBlueJumpTime, dBlueJumpValue))} fill="none" stroke="#4a5cff" strokeWidth={4} />
      </g>
      <Frame box={PANEL_D} x={dx} y={dy} xTicks={dXTicks} yTicks={dYTicks} fs={52} xDy={60} yGap={18} />
      <YLabel x={1828} y={1124} len={595}>
        {"Output current "}
        <tspan fontStyle="italic">i</tspan>
        <tspan fontSize={40} dy={12}>o</tspan>
        <tspan dy={-12}>（A）</tspan>
      </YLabel>
      <TimeLabel x={3429} y={1474} />
      <Caption x={2630} y={1536} text="(d) Output currents of converters between 5s and 6s" />

      {/* ===== (e) ===== */}
      <g clipPath="url(#clipE)">
        <path d={linePath(ex, ey, zip(eBlackTime, eBlackFreq))} fill="none" stroke="#000" strokeWidth={5} strokeLinejoin="round" />
        <path d={linePath(ex, ey, zip(eRedTime, eRedFreq), d3.curveMonotoneX)} fill="none" stroke="#ff3060" strokeWidth={3.5} />
        <path d={linePath(ex, ey, zip(eBlueTime, eBlueFreq), d3.curveMonotoneX)} fill="none" stroke="#2f2fff" strokeWidth={3.5} />
      </g>
      <Frame box={PANEL_E} x={ex} y={ey} xTicks={eXTicks} yTicks={eYTicks} fs={56} xDy={63} yGap={21} />
      <Legend
        box={{ x0: 2085, x1: 2402, y0: 1652, y1: 1833 }}
        colors={["#111", "#ff4f7a", "#4a4aff"]}
        rows={[1688, 1743, 1799]}
        lineX={[2110, 2232]}
        textX={2249}
        fs={46}
      />
      <YLabel x={897} y={1894} len={495}>
        {"Frequency "}
        <tspan fontStyle="italic">f</tspan>
        {" （Hz）"}
      </YLabel>
      <TimeLabel x={2508} y={2289} />
      <Caption x={1727} y={2330} text="(e) Frequency of injected ac voltage" />
    </svg>
  );
}
